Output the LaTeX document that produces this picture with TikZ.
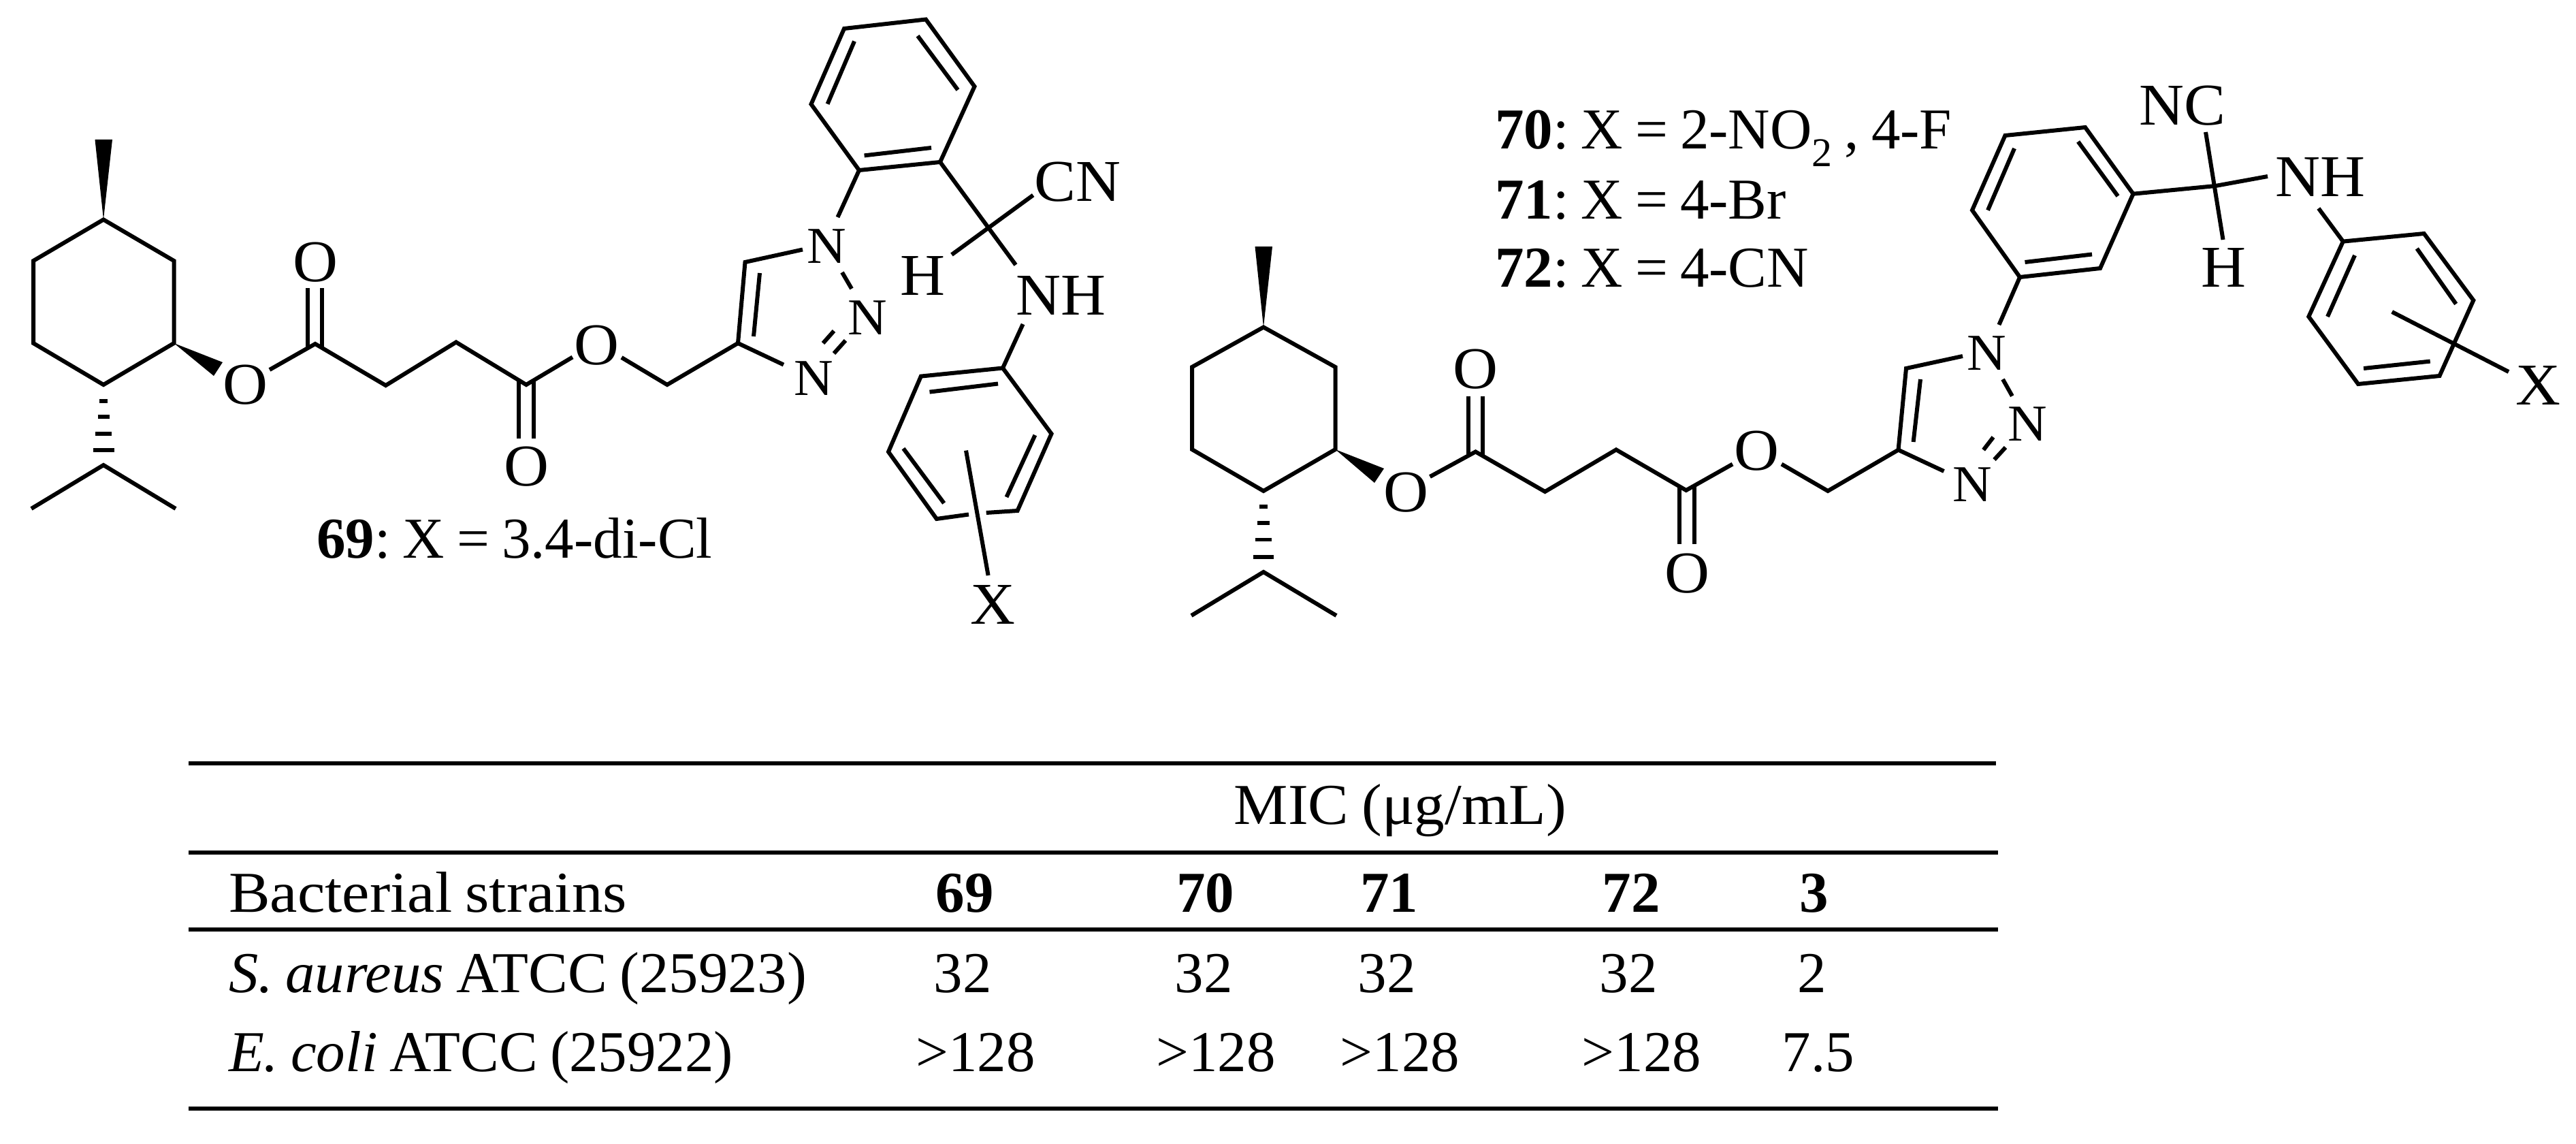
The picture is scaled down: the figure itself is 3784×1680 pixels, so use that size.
\documentclass[tikz,border=0pt]{standalone}
\usepackage{fontspec}
\setmainfont[FakeStretch=1.05,WordSpace=0.85]{Liberation Serif}
\newfontfamily\narrowfont[FakeStretch=1.0,WordSpace=0.85]{Liberation Serif}
\newfontfamily\midfont[FakeStretch=1.02,WordSpace=0.85]{Liberation Serif}
\newfontfamily\widefont[FakeStretch=1.07,WordSpace=0.85]{Liberation Serif}
\frenchspacing
\newcommand{\bodysize}{\fontsize{85}{100}\selectfont\frenchspacing}
\newcommand{\atomsize}{\fontsize{87}{100}\selectfont}
\newcommand{\smallatom}{\fontsize{76}{90}\selectfont}
\tikzset{
  bond/.style={line width=6pt,line join=miter,line cap=butt,black},
  ringbond/.style={bond},
  inner/.style={bond},
  hashbar/.style={line width=5.5pt,black},
  wedge/.style={fill=black,draw=none},
  rulebar/.style={line width=6pt,black},
  txt/.style={anchor=base,inner sep=0pt,outer sep=0pt,font=\bodysize,text=black},
  txtl/.style={txt,anchor=base west},
  nartxt/.style={txt,font=\bodysize\narrowfont},
  narl/.style={txtl,font=\bodysize\narrowfont},
  atom/.style={anchor=base,inner sep=0pt,outer sep=0pt,font=\atomsize,text=black},
  natom/.style={atom,font=\smallatom}
}
\begin{document}
\begin{tikzpicture}[x=1pt,y=-1pt]
\useasboundingbox (0,0) rectangle (3784,1680);
\fill[white] (0,0) rectangle (3784,1680);
% ---------- left molecule coordinates
\foreach \n/\x/\y in {
 a1/152/322.5,a2/255.5/383,a3/255.5/504,a4/152/565,a5/49/504,a6/49/383,
 mw1/139.5/205,mw2/165/205,ow1/327/532,ow2/314/552,
 ip/152/683,ip1/46/747,ip2/258/747,
 b1/396/543,b2/463/505,b3/566.6/566,b4/670/502.5,b5/773/565,b6/841/524.5,
 d1a/452/423,d1b/452/512,d2a/473/423,d2b/473/512,
 d3a/762/558,d3b/762/644,d4a/784/558,d4b/784/644,
 e1/913/525,e2/980/565,t4/1084/504,t5/1094.5/385,t6/1179/366.5,
 ti1/1107/494,ti2/1116/401,
 n1/1237/400,n2/1251/424,n3/1225/486,n4/1209/504,n5/1242/500,n6/1225/519,n7/1151/535.6,
 q1/1230.5/319,
 p1/1262/250,p2/1381/238,p3/1431.5/127,p4/1360/28.5,p5/1240/42,p6/1191.5/153,
 pi1/1269.6/228.4,pi2/1368/217,pi3/1348/52.7,pi4/1407/132,pi5/1255/60.6,pi6/1215.6/152.7,
 cc/1492/389,h1/1398/374,h2/1517.6/286.6,
 u1/1502.6/476,
 r1/1473/540.5,r2/1544.5/637,r3/1494.6/750,r4/1375.8/762,r5/1305/663.5,r6/1352.8/552.6,
 ri1/1365.5/575.6,ri2/1466/563.5,ri3/1520.4/639,ri4/1478.5/730,ri5/1386.7/739,ri6/1327/658.6,
 g1/1423/755.5,g2/1448.7/753,x1/1419/661.6,x2/1451.6/845}
 {\coordinate (L\n) at (\x,\y);}
% ---------- right molecule coordinates
\foreach \n/\x/\y in {
 a1/1856/480.5,a2/1961.5/539,a3/1961.5/660,a4/1856/721,a5/1751/660,a6/1751/539,
 mw1/1843.5/362,mw2/1869/362,ow1/2033/688,ow2/2019/709,
 ip/1856/840,ip1/1750/904,ip2/1963/904,
 b1/2100.5/700,b2/2167.5/663.4,b3/2269.5/722,b4/2374/660.4,b5/2476.8/720,b6/2545/681.6,
 d1a/2157/581.6,d1b/2157/669,d2a/2178/581.6,d2b/2178/669,
 d3a/2467/714,d3b/2467/798.5,d4a/2489/714,d4b/2489/798.5,
 e1/2617/681.6,e2/2685/721,t4/2788.5/660.7,t5/2800/541,t6/2883/523,
 ti1/2810.6/649,ti2/2821/557,
 n1/2942/557,n2/2955.8/581.6,n3/2928/642,n4/2913.6/660.7,n5/2946/657,n6/2929.5/675,n7/2855.5/692,
 q1/2936.4/477,
 p1/2967/407,p2/3085/394,p3/3133.5/284.7,p4/3063/187,p5/2945.4/199,p6/2897/308.7,
 pi1/2974.5/385,pi2/3073/373.5,pi3/3111/288,pi4/3052.6/208,pi5/2959/218,pi6/2920/308.7,
 cm/3254.4/273,ce/3331/259,h1/3240/194,h2/3265.5/352,
 u1/3405.8/306,
 r1/3441.8/354.6,r2/3560.7/343,r3/3633.3/441,r4/3583.5/552,r5/3464/564,r6/3391.3/465,
 ri1/3459/375,ri2/3419/465,ri3/3550.3/365,ri4/3607.7/446.4,ri5/3569.7/530.6,ri6/3472/541,
 x1/3513.7/458,x2/3685/546}
 {\coordinate (R\n) at (\x,\y);}
% ---------- shared skeleton of both molecules
\foreach \m in {L,R}{
  \draw[ringbond] (\m a1) -- (\m a2) -- (\m a3) -- (\m a4) -- (\m a5) -- (\m a6) -- cycle;
  \fill[wedge] (\m a1) -- (\m mw1) -- (\m mw2) -- cycle;
  \fill[wedge] (\m a3) -- (\m ow1) -- (\m ow2) -- cycle;
  \draw[bond] (\m ip1) -- (\m ip) -- (\m ip2);
  \draw[bond] (\m b1) -- (\m b2) -- (\m b3) -- (\m b4) -- (\m b5) -- (\m b6);
  \draw[bond] (\m d1a) -- (\m d1b);
  \draw[bond] (\m d2a) -- (\m d2b);
  \draw[bond] (\m d3a) -- (\m d3b);
  \draw[bond] (\m d4a) -- (\m d4b);
  \draw[bond] (\m e1) -- (\m e2) -- (\m t4) -- (\m t5) -- (\m t6);
  \draw[inner] (\m ti1) -- (\m ti2);
  \draw[bond] (\m t4) -- (\m n7);
  \draw[bond] (\m n1) -- (\m n2);
  \draw[bond] (\m n3) -- (\m n4);
  \draw[bond] (\m n5) -- (\m n6);
  \draw[bond] (\m q1) -- (\m p1);
  \draw[ringbond] (\m p1) -- (\m p2) -- (\m p3) -- (\m p4) -- (\m p5) -- (\m p6) -- cycle;
  \draw[inner] (\m pi1) -- (\m pi2);
  \draw[inner] (\m pi3) -- (\m pi4);
  \draw[inner] (\m pi5) -- (\m pi6);
  \draw[bond] (\m u1) -- (\m r1);
  \draw[inner] (\m ri1) -- (\m ri2);
  \draw[inner] (\m ri3) -- (\m ri4);
  \draw[inner] (\m ri5) -- (\m ri6);
  \draw[bond] (\m x1) -- (\m x2);
}
% left-only bonds
\draw[bond] (Lp2) -- (Lcc);
\draw[bond] (Lh1) -- (Lh2);
\draw[ringbond] (Lg2) -- (Lr3) -- (Lr2) -- (Lr1) -- (Lr6) -- (Lr5) -- (Lr4) -- (Lg1);
% right-only bonds
\draw[bond] (Rp3) -- (Rcm) -- (Rce);
\draw[bond] (Rh1) -- (Rh2);
\draw[ringbond] (Rr1) -- (Rr2) -- (Rr3) -- (Rr4) -- (Rr5) -- (Rr6) -- cycle;
% hashed bonds
\foreach \y/\w in {589/5.8,612/8.5,637/12,661/15.5}
  \draw[hashbar] (152-\w,\y) -- (152+\w,\y);
\foreach \y/\w in {744/5.8,768/9,792.5/12,818/15}
  \draw[hashbar] (1856-\w,\y) -- (1856+\w,\y);
% ---------- left atoms
\node[atom] (LO1) at (463,413) {O};
\node[atom] (LO2) at (360,593) {O};
\node[atom] (LO3) at (773,713) {O};
\node[atom] (LO4) at (876,535) {O};
\node[natom] (LN1) at (1214.5,386) {N};
\node[natom] (LN2) at (1274.7,491) {N};
\node[natom] (LN3) at (1195,580) {N};
\node[atom] (LH) at (1355.7,433) {H};
\node[atom] (LNH) at (1558,462) {NH};
\node[atom] (LCN) at (1582.5,295) {CN};
\node[atom] (LX) at (1458.5,916) {X};
\node[narl] (lab69) at (465,819) {\textbf{69}: X = 3.4-di-Cl};
% ---------- right atoms
\node[atom] (RO1) at (2167.5,570.7) {O};
\node[atom] (RO2) at (2065.4,751) {O};
\node[atom] (RO3) at (2478,870) {O};
\node[atom] (RO4) at (2580.7,690.7) {O};
\node[natom] (RN1) at (2917.8,543) {N};
\node[natom] (RN2) at (2978,647) {N};
\node[natom] (RN3) at (2897.7,736) {N};
\node[atom] (RNC) at (3206,183.7) {NC};
\node[atom] (RNH) at (3408,289) {NH};
\node[atom] (RH) at (3266,421) {H};
\node[atom] (RX) at (3728,594) {X};
\node[narl] (lab70) at (2196,219) {\textbf{70}: X = 2-NO\raisebox{-26pt}{\fontsize{60}{60}\selectfont 2} , 4-F};
\node[narl] (lab71) at (2196,321) {\textbf{71}: X = 4-Br};
\node[narl] (lab72) at (2196,421) {\textbf{72}: X = 4-CN};
% ---------- table
\coordinate (t1l) at (277,1121); \coordinate (t1r) at (2932,1121);
\coordinate (t2l) at (277,1252); \coordinate (t2r) at (2935,1252);
\coordinate (t3l) at (277,1365); \coordinate (t3r) at (2935,1365);
\coordinate (t4l) at (277,1628); \coordinate (t4r) at (2935,1628);
\draw[rulebar] (t1l) -- (t1r);
\draw[rulebar] (t2l) -- (t2r);
\draw[rulebar] (t3l) -- (t3r);
\draw[rulebar] (t4l) -- (t4r);
\node[txt] (mic) at (2057,1210) {MIC (μg/mL)};
\node[txtl,font=\bodysize\widefont] (hs) at (336,1339) {Bacterial strains};
\node[txtl,font=\bodysize\midfont] (rs) at (336,1457) {\textit{S. aureus} ATCC (25923)};
\node[narl] (re) at (336,1573.6) {\textit{E. coli} ATCC (25922)};
\node[nartxt] (h69) at (1417,1339) {\textbf{69}};
\node[nartxt] (h70) at (1770.5,1339) {\textbf{70}};
\node[nartxt] (h71) at (2040.6,1339) {\textbf{71}};
\node[nartxt] (h72) at (2396,1339) {\textbf{72}};
\node[nartxt] (h3) at (2665,1339) {\textbf{3}};
\node[nartxt] (s69) at (1414,1457) {32};
\node[nartxt] (s70) at (1768,1457) {32};
\node[nartxt] (s71) at (2037,1457) {32};
\node[nartxt] (s72) at (2392,1457) {32};
\node[nartxt] (s3) at (2662,1457) {2};
\node[nartxt] (e69) at (1433,1573.6) {>128};
\node[nartxt] (e70) at (1786,1573.6) {>128};
\node[nartxt] (e71) at (2056.6,1573.6) {>128};
\node[nartxt] (e72) at (2411.6,1573.6) {>128};
\node[nartxt] (e3) at (2671,1573.6) {7.5};
\end{tikzpicture}
\end{document}
